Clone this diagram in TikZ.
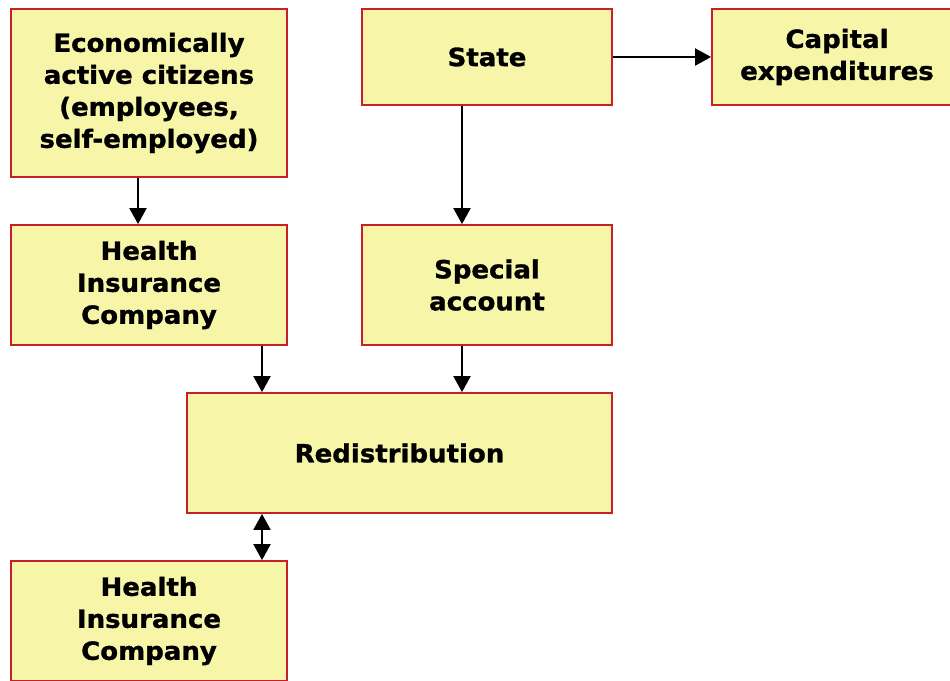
\documentclass[tikz,border=0pt]{standalone}
\usepackage{fontspec}
\setmainfont{DejaVu Sans}[FakeStretch=1.04,BoldFeatures={FakeBold=1.2}]
\usetikzlibrary{arrows.meta,calc}
\definecolor{boxfill}{HTML}{F7F6A8}
\definecolor{boxline}{HTML}{C8202A}
\begin{document}
\begin{tikzpicture}[x=1pt,y=-1pt,
  box/.style={draw=boxline,fill=boxfill,line width=1.8pt,inner sep=0pt,
    align=center,font=\fontsize{25}{32}\selectfont\bfseries},
  arr/.style={line width=2pt,-{Triangle[length=16pt,width=17pt]}},
  dbl/.style={line width=2pt,{Triangle[length=16pt,width=17pt]}-{Triangle[length=16pt,width=17pt]}}]
\useasboundingbox (0,0) rectangle (950,680);
\clip (0,0) rectangle (950,680);
\node[box,minimum width=276pt,minimum height=168pt] (A) at (149,93) {Economically\\active citizens\\(employees,\\self-employed)};
\node[box,minimum width=250pt,minimum height=96pt] (S) at (487,57) {State};
\node[box,minimum width=250pt,minimum height=96pt] (C) at (837,57) {Capital\\expenditures};
\node[box,minimum width=276pt,minimum height=120pt] (D) at (149,285) {Health\\Insurance\\Company};
\node[box,minimum width=250pt,minimum height=120pt] (E) at (487,285) {Special\\account};
\node[box,minimum width=425pt,minimum height=120pt] (F) at (399.5,453) {Redistribution};
\node[box,minimum width=276pt,minimum height=120pt] (G) at (149,621) {Health\\Insurance\\Company};
\draw[arr] ($(A.south)+(-11,0)$) -- ($(D.north)+(-11,0)$);
\draw[arr] ($(S.south)+(-25,0)$) -- ($(E.north)+(-25,0)$);
\draw[arr] (S.east) -- (C.west);
\draw[arr] ($(D.south)+(113,0)$) -- ($(F.north)+(-137.5,0)$);
\draw[arr] ($(E.south)+(-25,0)$) -- ($(F.north)+(62.5,0)$);
\draw[dbl] ($(F.south)+(-137.5,0)$) -- ($(G.north)+(113,0)$);
\end{tikzpicture}
\end{document}
